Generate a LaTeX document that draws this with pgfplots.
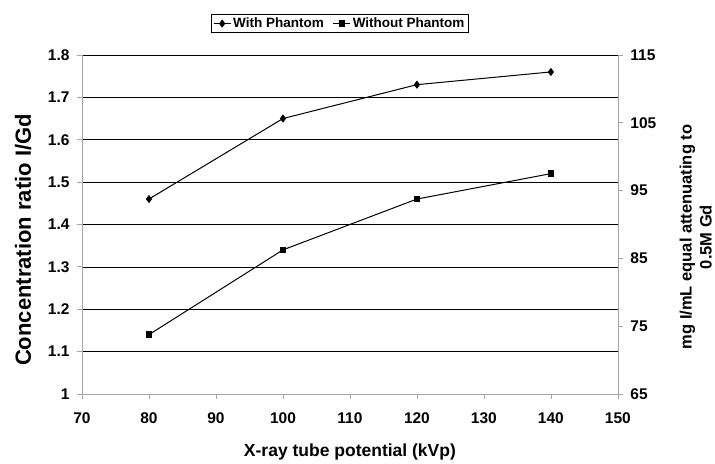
\documentclass[border=0pt]{standalone}
\usepackage{fontspec}
\setmainfont{Liberation Sans}
\usepackage{pgfplots}
\pgfplotsset{compat=1.18}
\begin{document}
\begin{tikzpicture}
\pgfplotsset{
  every axis/.append style={
    scale only axis, width=536pt, height=339pt,
    /pgf/number format/assume math mode=true,
    tick label style={font=\bfseries\fontsize{15.5}{17}\selectfont, text=black},
    axis line style={gray!70, line width=0.8pt},
    major tick style={gray!70, line width=0.8pt},
    tick align=outside, major tick length=5pt,
    xmin=70, xmax=150,
  }
}
\begin{axis}[name=main, at={(0,0)}, anchor=south west,
  ymin=1, ymax=1.8,
  xtick={70,80,90,100,110,120,130,140,150},
  ytick={1,1.1,1.2,1.3,1.4,1.5,1.6,1.7,1.8},
  yticklabel style={xshift=-4pt, /pgf/number format/.cd, fixed, precision=1},
  xticklabel style={yshift=-10pt},
  axis x line*=bottom, axis y line*=left,
  ymajorgrids, major grid style={black, line width=0.6pt},
  xlabel={X-ray tube potential (kVp)},
  xlabel style={font=\bfseries\fontsize{17.5}{20}\selectfont, at={(axis description cs:0.5,-0.172)}, anchor=center},
  ylabel={Concentration ratio I/Gd},
  ylabel style={font=\bfseries\fontsize{22}{24}\selectfont, at={(axis description cs:-0.110,0.454)}, anchor=center},
  legend columns=2,
  legend style={at={(0.481,1)}, anchor=south, yshift=22pt,
    font=\bfseries\fontsize{13.5}{15}\selectfont, draw=black, line width=0.6pt,
    inner sep=1.5pt, /tikz/every even column/.append style={column sep=7pt}},
  legend image post style={line width=1pt},
]
\addplot[black, line width=1pt, mark=diamond*, mark size=3.3pt, mark options={fill=black}]
  coordinates {(80,1.46) (100,1.65) (120,1.73) (140,1.76)};
\addlegendentry{With Phantom}
\addplot[black, line width=1pt, mark=square*, mark size=2.7pt, mark options={fill=black}]
  coordinates {(80,1.14) (100,1.34) (120,1.46) (140,1.52)};
\addlegendentry{Without Phantom}
\end{axis}
\begin{axis}[at={(0,0)}, anchor=south west,
  ymin=65, ymax=115,
  ytick={65,75,85,95,105,115},
  yticklabel style={xshift=4pt},
  axis y line*=right, axis x line=none,
  ylabel={mg I/mL equal attenuating to\\0.5M Gd},
  ylabel style={font=\bfseries\fontsize{16.5}{20}\selectfont, align=center, at={(axis description cs:1.145,0.463)}, anchor=center},
]
\end{axis}
\path (-82pt,-67pt) rectangle (633pt,394pt);
\end{tikzpicture}
\end{document}
